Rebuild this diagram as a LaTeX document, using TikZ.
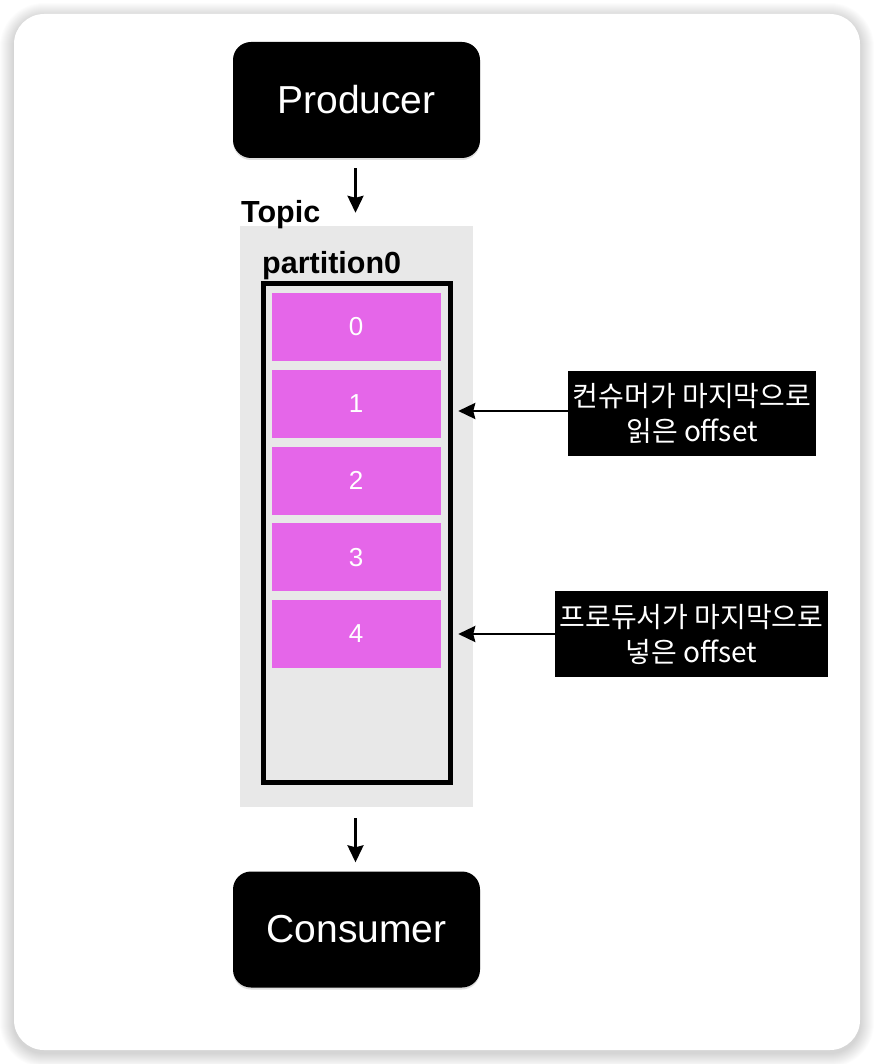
\documentclass[tikz,border=0pt]{standalone}
\usepackage{fontspec}
\setmainfont{Liberation Sans}
\newfontfamily\kor{Noto Sans CJK KR}
\usetikzlibrary{arrows.meta,shadows}
\definecolor{cellmag}{RGB}{229,102,233}
\definecolor{topicgrey}{RGB}{232,232,232}
\begin{document}
\begin{tikzpicture}[x=1pt,y=-1pt,
  blackbox/.style={rectangle, rounded corners=18pt, fill=black, text=white,
    minimum width=247pt, minimum height=116pt, inner sep=0pt,
    font=\fontsize{39}{44}\selectfont,
    drop shadow={opacity=0.25, shadow xshift=0pt, shadow yshift=-2pt}},
  cell/.style={rectangle, fill=cellmag, text=white, minimum width=169pt,
    minimum height=68pt, inner sep=0pt, font=\fontsize{26}{30}\selectfont},
  note/.style={rectangle, fill=black, text=white, inner sep=0pt, align=center,
    font=\fontsize{28}{35}\selectfont\kor},
  arr/.style={line width=2.5pt, -{Stealth[length=17pt,width=16pt,inset=2pt]}},
  heading/.style={font=\bfseries\fontsize{30.5}{34}\selectfont, inner sep=0pt, anchor=base west}
]
\useasboundingbox (0,0) rectangle (874,1064);
\fill[white] (0,0) rectangle (874,1064);
% card shadow
\foreach \i in {1,...,14}{
  \fill[black, opacity=0.012, rounded corners={30pt+\i pt}]
    (14-\i,14-\i+3) rectangle (860+\i,1050+\i+3);
}
\fill[white, rounded corners=30pt] (14,14) rectangle (860,1050);

% topic area
\node[rectangle, fill=topicgrey, minimum width=233pt, minimum height=581pt, inner sep=0pt]
  (topic) at (356.5,516.5) {};
\node[heading] (topiclbl) at (241,223) {Topic};
\node[heading] (partlbl) at (262,273) {partition0};
\node[rectangle, draw=black, line width=5.5pt, fill=topicgrey, minimum width=187pt,
  minimum height=499pt, inner sep=0pt] (frame) at (357,533) {};

% cells
\foreach \n in {0,...,4}{
  \node[cell] (c\n) at (356, 327+76.75*\n) {\n};
}

% producer / consumer
\node[blackbox] (prod) at (356.5,100) {Producer};
\node[blackbox] (cons) at (356.5,929.5) {Consumer};

% notes
\node[note, minimum width=248pt, minimum height=85pt] (lab1) at (692,413.5)
  {컨슈머가 마지막으로\\읽은 offset};
\node[note, minimum width=273pt, minimum height=86pt] (lab2) at (691.5,634)
  {프로듀서가 마지막으로\\넣은 offset};

% arrows
\draw[arr, shorten <=10pt, shorten >=13pt] ([xshift=-1pt]prod.south) -- ([xshift=-1pt]topic.north);
\draw[arr, shorten <=11pt, shorten >=9pt] ([xshift=-1pt]topic.south) -- ([xshift=-1pt]cons.north);
\draw[arr, shorten >=5pt] ([yshift=2.5pt]lab1.west) -- ([yshift=2.5pt]lab1.west -| frame.east);
\draw[arr, shorten >=5pt] (lab2.west) -- (lab2.west -| frame.east);
\end{tikzpicture}
\end{document}
